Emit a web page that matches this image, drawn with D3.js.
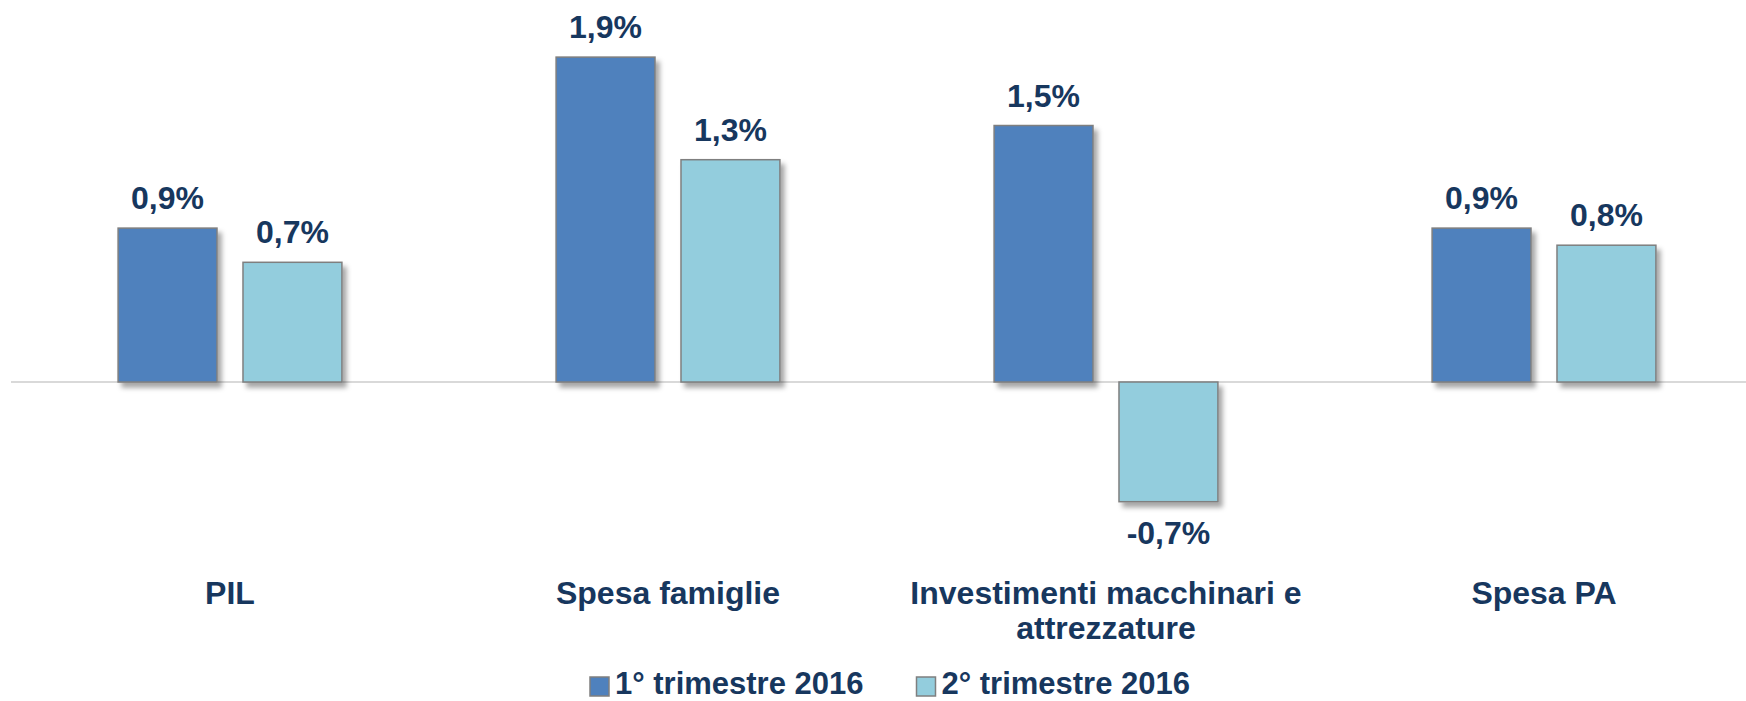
<!DOCTYPE html>
<html>
<head>
<meta charset="utf-8">
<script src="https://cdn.jsdelivr.net/npm/d3@7"></script>
<style>
  html, body { margin: 0; padding: 0; background: #fff; }
  svg text { font-family: Arial, "Liberation Sans", sans-serif; font-weight: bold; fill: #17375E; }
</style>
</head>
<body>
<svg id="chart" width="1746" height="701"></svg>
<script>
const categories = ["PIL", "Spesa famiglie", "Investimenti macchinari e|attrezzature", "Spesa PA"];
const seriesNames = ["1° trimestre 2016", "2° trimestre 2016"];
const q1Values = [0.9, 1.9, 1.5, 0.9];
const q2Values = [0.7, 1.3, -0.7, 0.8];
const seriesColors = ["#4F81BD", "#93CDDD"];

const W = 1746, H = 701;
const svg = d3.select("#chart");

const defs = svg.append("defs");
const shadow = defs.append("filter").attr("id", "shadow")
  .attr("x", "-10%").attr("y", "-10%").attr("width", "130%").attr("height", "130%");
shadow.append("feDropShadow")
  .attr("dx", 4).attr("dy", 5).attr("stdDeviation", 2.5)
  .attr("flood-color", "#000").attr("flood-opacity", 0.35);

const table = categories.map((c, i) => ({ cat: c, vals: [q1Values[i], q2Values[i]] }));

const x0 = d3.scaleBand().domain(categories).range([11, 1763])
  .paddingInner(0.489).paddingOuter(0.2445);
const x1 = d3.scaleBand().domain(seriesNames).range([0, x0.bandwidth()]).paddingInner(0.208);
const y = d3.scaleLinear().domain([-1, 2]).range([553, 40]);

// zero line
svg.append("line")
  .attr("x1", 11).attr("x2", W)
  .attr("y1", y(0)).attr("y2", y(0))
  .attr("stroke", "#D9D9D9").attr("stroke-width", 2);

const groups = svg.selectAll("g.grp").data(table).enter().append("g")
  .attr("class", "grp")
  .attr("transform", d => `translate(${x0(d.cat)},0)`);

groups.selectAll("rect").data(d => d.vals.map((v, k) => ({ v, k }))).enter().append("rect")
  .attr("x", d => x1(seriesNames[d.k]))
  .attr("width", x1.bandwidth())
  .attr("y", d => d.v >= 0 ? y(d.v) : y(0))
  .attr("height", d => Math.abs(y(d.v) - y(0)))
  .attr("fill", d => seriesColors[d.k])
  .attr("stroke", "#7F7F7F").attr("stroke-width", 1.5)
  .attr("filter", "url(#shadow)");

const fmt = v => (v < 0 ? "-" : "") + Math.abs(v).toFixed(1).replace(".", ",") + "%";

groups.selectAll("text.val").data(d => d.vals.map((v, k) => ({ v, k }))).enter().append("text")
  .attr("class", "val")
  .attr("x", d => x1(seriesNames[d.k]) + x1.bandwidth() / 2)
  .attr("y", d => d.v >= 0 ? y(d.v) - 19 : y(d.v) + 42)
  .attr("text-anchor", "middle")
  .style("font-size", "32px")
  .text(d => fmt(d.v));

// category labels
const catText = svg.selectAll("text.cat").data(categories).enter().append("text")
  .attr("class", "cat")
  .attr("x", d => x0(d) + x0.bandwidth() / 2)
  .attr("y", 604)
  .attr("text-anchor", "middle")
  .style("font-size", "32px");
catText.each(function(d) {
  const t = d3.select(this);
  d.split("|").forEach((line, i) => {
    t.append("tspan").attr("x", t.attr("x")).attr("dy", i === 0 ? 0 : 35).text(line);
  });
});

// legend
const legend = svg.append("g");
const items = legend.selectAll("g").data(seriesNames).enter().append("g");
items.append("rect")
  .attr("y", 677).attr("width", 19).attr("height", 19)
  .attr("fill", (d, i) => seriesColors[i])
  .attr("stroke", "#7F7F7F").attr("stroke-width", 1.5);
items.append("text")
  .attr("x", 25).attr("y", 694)
  .style("font-size", "31px")
  .text(d => d);
let lx = 590;
items.each(function() {
  d3.select(this).attr("transform", `translate(${lx},0)`);
  lx += this.getBBox().width + 53;
});
</script>
</body>
</html>
